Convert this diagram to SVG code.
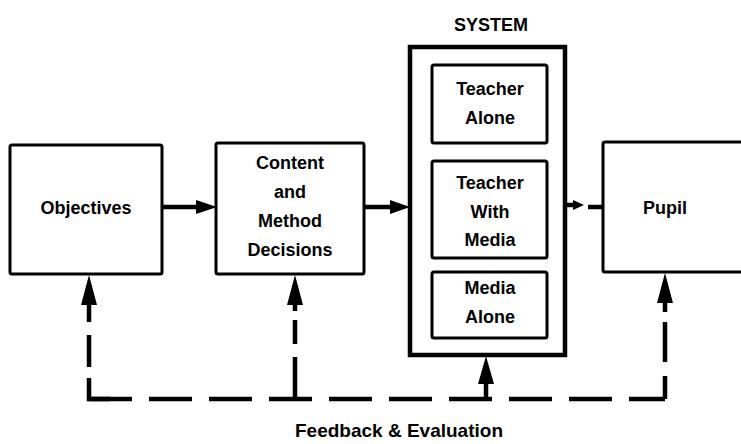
<svg xmlns="http://www.w3.org/2000/svg" width="741" height="444" viewBox="0 0 741 444">
  <style>
    .box { fill: #fff; stroke: #000; stroke-width: 3; }
    .outer { fill: #fff; stroke: #000; stroke-width: 4.5; }
    .lbl { font-family: "Liberation Sans", Arial, sans-serif; font-weight: bold; font-size: 18px; fill: #000; text-anchor: middle; }
    .flow { stroke: #000; stroke-width: 4.5; fill: none; }
    .fb { stroke: #000; stroke-width: 4.5; fill: none; stroke-dasharray: 43 17; }
    .head { fill: #000; }
  </style>

  <rect width="741" height="444" fill="#fff"/>

  <g id="objectives">
    <rect class="box" x="10" y="145" width="152" height="129" rx="2"/>
    <text class="lbl" x="86" y="214">Objectives</text>
  </g>

  <g id="content-method">
    <rect class="box" x="216" y="143" width="148" height="131" rx="2"/>
    <text class="lbl" x="290" y="169">Content</text>
    <text class="lbl" x="290" y="198">and</text>
    <text class="lbl" x="290" y="227">Method</text>
    <text class="lbl" x="290" y="256">Decisions</text>
  </g>

  <g id="system">
    <text class="lbl" x="491" y="31">SYSTEM</text>
    <rect class="outer" x="410" y="47" width="155" height="308"/>
    <g id="teacher-alone">
      <rect class="box" x="432" y="65" width="115" height="78" rx="2"/>
      <text class="lbl" x="490" y="95">Teacher</text>
      <text class="lbl" x="490" y="124">Alone</text>
    </g>
    <g id="teacher-with-media">
      <rect class="box" x="432" y="161" width="115" height="97" rx="2"/>
      <text class="lbl" x="490" y="189">Teacher</text>
      <text class="lbl" x="490" y="218">With</text>
      <text class="lbl" x="490" y="246">Media</text>
    </g>
    <g id="media-alone">
      <rect class="box" x="432" y="272" width="115" height="66" rx="2"/>
      <text class="lbl" x="490" y="294">Media</text>
      <text class="lbl" x="490" y="323">Alone</text>
    </g>
  </g>

  <g id="pupil">
    <rect class="box" x="603" y="142" width="150" height="130" rx="2"/>
    <text class="lbl" x="665" y="214">Pupil</text>
  </g>

  <g id="connectors">
    <!-- forward flow -->
    <line class="flow" x1="162" y1="207" x2="198" y2="207"/>
    <polygon class="head" points="217,207 196,200 196,214"/>
    <line class="flow" x1="364" y1="207" x2="392" y2="207"/>
    <polygon class="head" points="410,207 390,200 390,214"/>
    <line class="flow" x1="565" y1="205" x2="576" y2="205"/>
    <polygon class="head" points="584,205 573,200 573,210"/>
    <line class="flow" x1="588" y1="207" x2="603" y2="207"/>

    <!-- feedback & evaluation loop -->
    <path class="fb" d="M89,399 H665"/>
    <path class="flow" d="M89,378 V399 H110"/>
    <path class="flow" d="M89,367 V335"/>
    <path class="flow" d="M89,322 V300"/>
    <path class="flow" d="M295,399 V357"/>
    <path class="flow" d="M295,344 V320"/>
    <path class="flow" d="M295,311 V300"/>
    <path class="flow" d="M665,399 V376"/>
    <path class="flow" d="M665,362 V322"/>
    <path class="flow" d="M665,312 V300"/>
    <path class="flow" d="M486,399 V378"/>

    <polygon class="head" points="89,275 81,305 97,305"/>
    <polygon class="head" points="295,275 287,305 303,305"/>
    <polygon class="head" points="486,356 478,384 494,384"/>
    <polygon class="head" points="665,273 657,303 673,303"/>
  </g>

  <text class="lbl" x="399" y="437" style="font-size:19px">Feedback &amp; Evaluation</text>
</svg>
